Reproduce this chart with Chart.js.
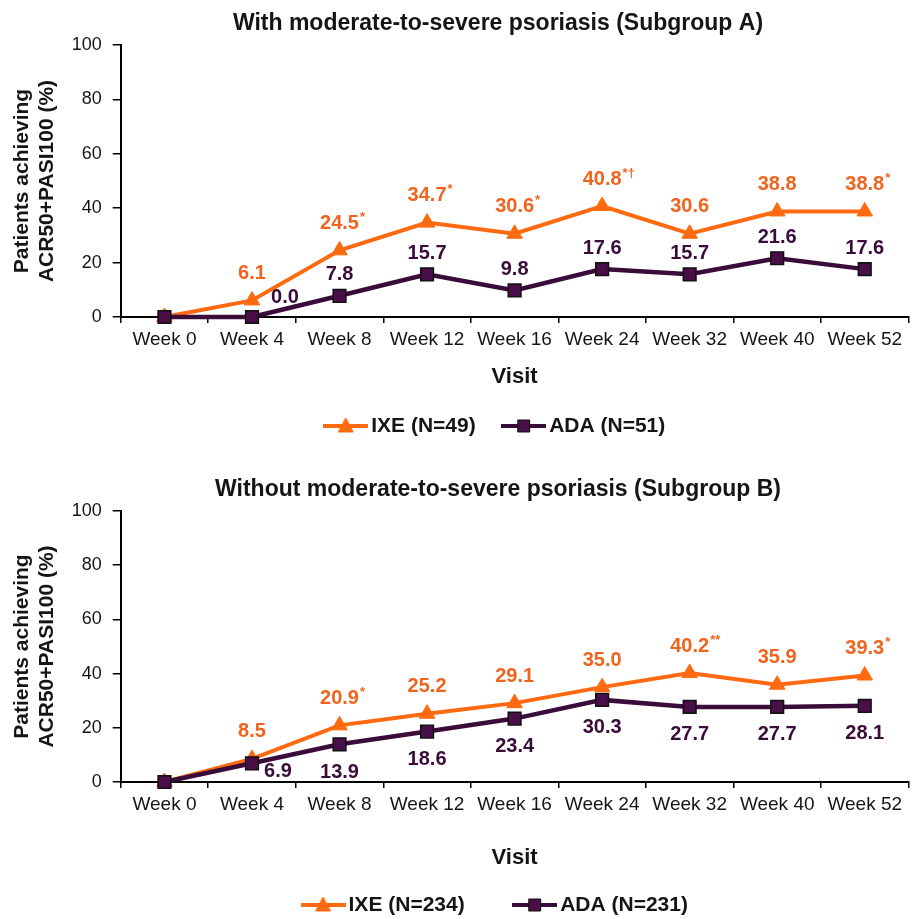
<!DOCTYPE html>
<html>
<head>
<meta charset="utf-8">
<script src="https://cdn.jsdelivr.net/npm/chart.js@4.4.1/dist/chart.umd.min.js"></script>
<style>
  html, body { margin: 0; padding: 0; background: #fff; overflow: hidden; }
  #boxA { position: absolute; left: 0; top: 0; width: 919px; height: 460px; }
  #boxB { position: absolute; left: 0; top: 460px; width: 919px; height: 470px; }
</style>
</head>
<body>
<div id="boxA"><canvas id="chartA"></canvas></div>
<div id="boxB"><canvas id="chartB"></canvas></div>
<script>
// values
const visits = ['Week 0', 'Week 4', 'Week 8', 'Week 12', 'Week 16', 'Week 24', 'Week 32', 'Week 40', 'Week 52'];
const yTicks = [0, 20, 40, 60, 80, 100];

const ixeA = [0, 6.1, 24.5, 34.7, 30.6, 40.8, 30.6, 38.8, 38.8];
const adaA = [0, 0.0, 7.8, 15.7, 9.8, 17.6, 15.7, 21.6, 17.6];
const ixeTextA = ['', '6.1', '24.5*', '34.7*', '30.6*', '40.8*†', '30.6', '38.8', '38.8*'];
const adaTextA = ['', '0.0', '7.8', '15.7', '9.8', '17.6', '15.7', '21.6', '17.6'];

const ixeB = [0, 8.5, 20.9, 25.2, 29.1, 35.0, 40.2, 35.9, 39.3];
const adaB = [0, 6.9, 13.9, 18.6, 23.4, 30.3, 27.7, 27.7, 28.1];
const ixeTextB = ['', '8.5', '20.9*', '25.2', '29.1', '35.0', '40.2**', '35.9', '39.3*'];
const adaTextB = ['', '6.9', '13.9', '18.6', '23.4', '30.3', '27.7', '27.7', '28.1'];

const FONT = '"Liberation Sans", Arial, sans-serif';
const ORANGE = '#ff6a10';
const ORANGE_TEXT = '#f0641e';
const PURPLE = '#3a0c3a';
const PURPLE_FILL = '#4a0f48';
const TEXT = '#151515';

// value labels next to the points (number + small superscript marks)
const pointText = {
  id: 'pointText',
  afterDatasetsDraw(chart) {
    const ctx = chart.ctx;
    chart.data.datasets.forEach((ds, i) => {
      const meta = chart.getDatasetMeta(i);
      meta.data.forEach((pt, j) => {
        const txt = ds.pointText[j];
        if (!txt) return;
        const m = txt.match(/^([\d.]+)(.*)$/);
        const shift = (ds.textShiftAt && ds.textShiftAt[j]) || ds.textShift;
        const x = pt.x + shift[0];
        const y = pt.y + shift[1];
        ctx.save();
        ctx.fillStyle = ds.textColor;
        ctx.textBaseline = 'middle';
        ctx.font = 'bold 20px ' + FONT;
        const w = ctx.measureText(m[1]).width;
        ctx.textAlign = 'left';
        ctx.fillText(m[1], x - w / 2, y);
        if (m[2]) {
          ctx.font = 'bold 13px ' + FONT;
          ctx.fillText(m[2], x + w / 2 + 1, y - 6);
        }
        ctx.restore();
      });
    });
  }
};

function legendIcon(line, style, fill, stroke) {
  const c = document.createElement('canvas');
  c.width = 45;
  c.height = 20;
  const g = c.getContext('2d');
  g.strokeStyle = line;
  g.lineWidth = 4;
  g.beginPath();
  g.moveTo(0, 10);
  g.lineTo(45, 10);
  g.stroke();
  g.fillStyle = fill;
  g.strokeStyle = stroke;
  g.lineWidth = 1;
  g.beginPath();
  if (style === 'triangle') {
    g.moveTo(22.5, 2);
    g.lineTo(30, 16);
    g.lineTo(15, 16);
    g.closePath();
  } else {
    g.rect(16.5, 4, 12, 12);
  }
  g.fill();
  g.stroke();
  return c;
}
const icons = [
  legendIcon(ORANGE, 'triangle', ORANGE, ORANGE),
  legendIcon(PURPLE, 'rect', PURPLE_FILL, '#111')
];

function makeChart(id, s) {
  return new Chart(document.getElementById(id), {
    type: 'line',
    data: {
      labels: visits,
      datasets: [
        {
          label: s.ixeName,
          data: s.ixe,
          pointText: s.ixeText,
          textColor: ORANGE_TEXT,
          textShift: [0, -27],
          borderColor: ORANGE,
          backgroundColor: ORANGE,
          borderWidth: 4,
          pointStyle: 'triangle',
          pointRadius: 9,
          pointBorderColor: ORANGE,
          pointBackgroundColor: ORANGE,
          pointBorderWidth: 1,
          tension: 0,
          clip: false,
          order: 2
        },
        {
          label: s.adaName,
          data: s.ada,
          pointText: s.adaText,
          textColor: PURPLE,
          textShift: s.adaShift,
          textShiftAt: s.adaShiftAt,
          borderColor: PURPLE,
          backgroundColor: PURPLE_FILL,
          borderWidth: 4.5,
          pointStyle: 'rect',
          pointRadius: 9,
          pointBorderColor: '#111',
          pointBackgroundColor: PURPLE_FILL,
          pointBorderWidth: 1.5,
          tension: 0,
          clip: false,
          order: 1
        }
      ]
    },
    options: {
      responsive: true,
      maintainAspectRatio: false,
      animation: false,
      events: [],
      layout: { padding: { left: 70, right: -7, top: 0, bottom: s.padBottom } },
      plugins: {
        title: {
          display: true,
          text: s.title,
          color: TEXT,
          font: { family: FONT, size: 23, weight: 'bold' },
          padding: { top: s.titleTop, bottom: 7.2 }
        },
        legend: {
          position: 'bottom',
          labels: {
            usePointStyle: true,
            pointStyleWidth: 30,
            padding: s.legendPad,
            color: TEXT,
            font: { family: FONT, size: 21, weight: 'bold' },
            sort: (a, b) => a.datasetIndex - b.datasetIndex,
            generateLabels: chart => Chart.defaults.plugins.legend.labels.generateLabels(chart)
              .map(it => Object.assign(it, { pointStyle: icons[it.datasetIndex] }))
          }
        },
        tooltip: { enabled: false }
      },
      scales: {
        x: {
          offset: true,
          afterFit: sc => { sc.height = s.xHeight; },
          grid: { offset: true, drawOnChartArea: false, tickLength: 6, color: '#000', lineWidth: 1.5 },
          border: { color: '#000', width: 2 },
          ticks: { font: { family: FONT, size: 19 }, color: TEXT, padding: 5.6, autoSkip: false, maxRotation: 0 },
          title: {
            display: true,
            text: 'Visit',
            color: TEXT,
            font: { family: FONT, size: 22, weight: 'bold' },
            padding: { top: 0, bottom: s.visitPad }
          }
        },
        y: {
          min: 0,
          max: 100,
          afterFit: sc => { sc.width = 50.7; },
          afterBuildTicks: sc => { sc.ticks = yTicks.map(v => ({ value: v })); },
          grid: { drawOnChartArea: false, tickLength: 8, color: '#000', lineWidth: 1.5 },
          border: { color: '#000', width: 2 },
          ticks: { font: { family: FONT, size: 18 }, color: TEXT, padding: 11 },
          title: {
            display: true,
            text: ['Patients achieving', 'ACR50+PASI100 (%)'],
            color: TEXT,
            font: { family: FONT, size: 21, weight: 'bold', lineHeight: 25 / 21 },
            padding: { top: -60.5, bottom: 0 }
          }
        }
      }
    },
    plugins: [pointText]
  });
}

makeChart('chartA', {
  title: 'With moderate-to-severe psoriasis (Subgroup A)',
  ixeName: 'IXE (N=49)', adaName: 'ADA (N=51)',
  ixe: ixeA, ada: adaA, ixeText: ixeTextA, adaText: adaTextA,
  adaShift: [0, -21], adaShiftAt: { 1: [33, -20] },
  titleTop: 10.2, padBottom: 13.5, legendPad: 33, xHeight: 65.5, visitPad: -7.7
});

makeChart('chartB', {
  title: 'Without moderate-to-severe psoriasis (Subgroup B)',
  ixeName: 'IXE (N=234)', adaName: 'ADA (N=231)',
  ixe: ixeB, ada: adaB, ixeText: ixeTextB, adaText: adaTextB,
  adaShift: [0, 28], adaShiftAt: { 1: [26, 8] },
  titleTop: 16.2, padBottom: 4.5, legendPad: 55, xHeight: 57.5, visitPad: -31.7
});
</script>
</body>
</html>
